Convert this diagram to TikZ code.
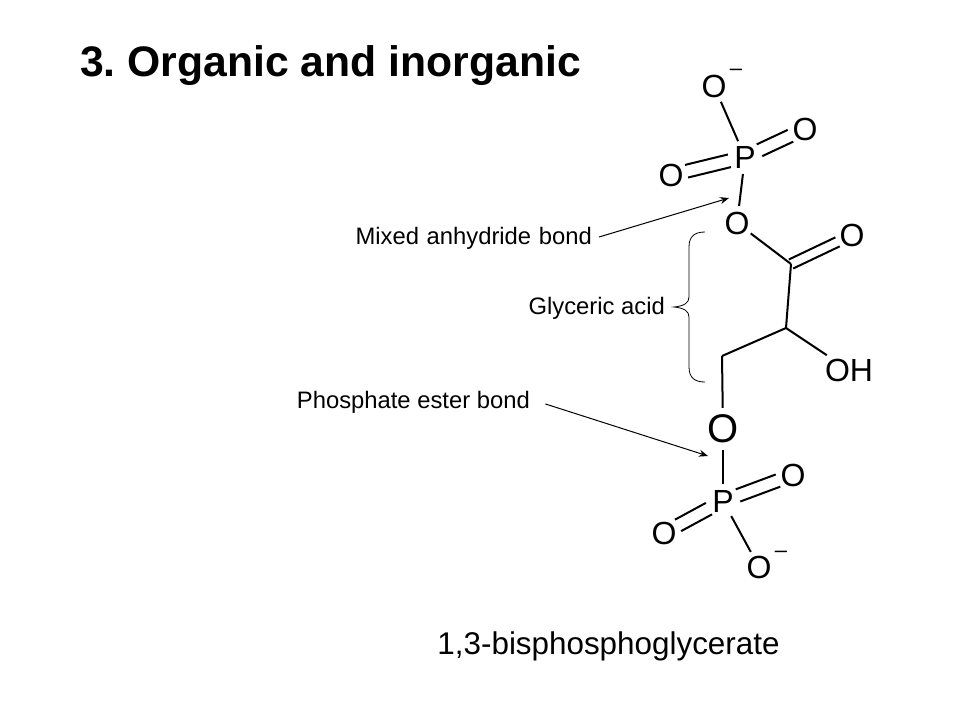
\documentclass[tikz,border=0pt]{standalone}
\usepackage{fontspec}
\setmainfont{Liberation Sans}
\usepackage{tikz}
\usetikzlibrary{calc, positioning, arrows.meta}
\tikzstyle{Atom}=[circle, inner sep=0pt, minimum size=34pt, font=\fontsize{32}{32}\selectfont]
\tikzstyle{Bond}=[line width=2pt]
\tikzstyle{Pointer}=[-{Stealth[length=9pt, width=7pt]}, line width=1pt]
\tikzstyle{Label}=[inner sep=3pt, font=\fontsize{23.8}{24}\selectfont]
\tikzstyle{Charge}=[inner sep=0pt, font=\fontsize{22}{22}\selectfont]
\newcommand{\dbond}[2]{
		\draw[Bond, shorten <=16pt, shorten >=16pt] ($(#1)!6.5pt!90:(#2)$) -- ($(#2)!6.5pt!-90:(#1)$);
		\draw[Bond, shorten <=16pt, shorten >=16pt] ($(#1)!6.5pt!-90:(#2)$) -- ($(#2)!6.5pt!90:(#1)$);
}
\frenchspacing

\begin{document}
\begin{tikzpicture}[x=1pt, y=-1pt]
		\useasboundingbox (0,0) rectangle (960,720);
		\node[anchor=west, inner sep=0pt, font=\fontsize{42.7}{42}\selectfont\bfseries] (title) at (80,66) {3. Organic and inorganic};
		% upper phosphate
		\node[Atom] (P1) at (745,157) {P};
		\node[Atom] (Otop) at (714,86) {O};
		\node[Atom] (Oright) at (805,129) {O};
		\node[Atom] (Oleft) at (671,175) {O};
		\node[Atom] (Omid) at (737,223) {O};
		\node[Charge] (chargeA) at (736,72) {\textendash};
		% glyceric acid
		\coordinate (C1) at (791,264);
		\coordinate (C2) at (786,328);
		\coordinate (C3) at (722,356);
		\node[Atom] (Oacid) at (852,235) {O};
		\node[Atom, minimum size=30pt] (OH) at (849,370) {OH};
		% lower phosphate
		\node[Atom, minimum size=38pt, font=\fontsize{40}{40}\selectfont] (Oester) at (723,429) {O};
		\node[Atom] (P2) at (723,501) {P};
		\node[Atom] (Oright2) at (793,475) {O};
		\node[Atom] (Oleft2) at (664,533) {O};
		\node[Atom] (Obot) at (759,567) {O};
		\node[Charge] (chargeB) at (781,554) {\textendash};
		\path[Bond]
		(Otop) edge (P1)
		(P1) edge (Omid)
		(Omid) edge (C1)
		(C1) edge (C2)
		(C2) edge (C3) edge (OH)
		(C3) edge (Oester)
		(Oester) edge (P2)
		(P2) edge (Obot)
		;
		\dbond{P1}{Oright}
		\dbond{Oleft}{P1}
		\dbond{Oright2}{P2}
		\dbond{P2}{Oleft2}
		\draw[Bond, shorten >=16pt] ($(C1)!5pt!90:(Oacid)$) -- ($(Oacid)!5pt!-90:(C1)$);
		\draw[Bond, shorten >=16pt] ($(C1)!5pt!-90:(Oacid)$) -- ($(Oacid)!5pt!90:(C1)$);
		% labels
		\node[Label, anchor=east] (mixed) at (595,238) {Mixed\hspace{1pt} anhydride\hspace{1pt} bond};
		\node[Label, anchor=east] (glyceric) at (668,308) {Glyceric acid};
		\node[Label, anchor=east] (ester) at (533,402) {Phosphate ester bond};
		\node[anchor=center, inner sep=0pt, font=\fontsize{31.4}{32}\selectfont] (name) at (608.5,646) {1,3-bisphosphoglycerate};
		\coordinate (tipA) at (729,198);
		\coordinate (tipB) at (708,456);
		\draw[Pointer] ([xshift=4pt,yshift=1pt]mixed.east) -- (tipA);
		\draw[Pointer, shorten <=13pt] ([yshift=2pt]ester.east) -- (tipB);
		% brace
		\draw[line width=0.8pt] (705,232) .. controls (695,232) and (689,236) .. (689,247) -- (689,297) .. controls (689,303) and (684,306) .. (674,307) .. controls (684,308) and (689,311) .. (689,317) -- (689,367) .. controls (689,378) and (695,382) .. (705,382);
\end{tikzpicture}
\end{document}
